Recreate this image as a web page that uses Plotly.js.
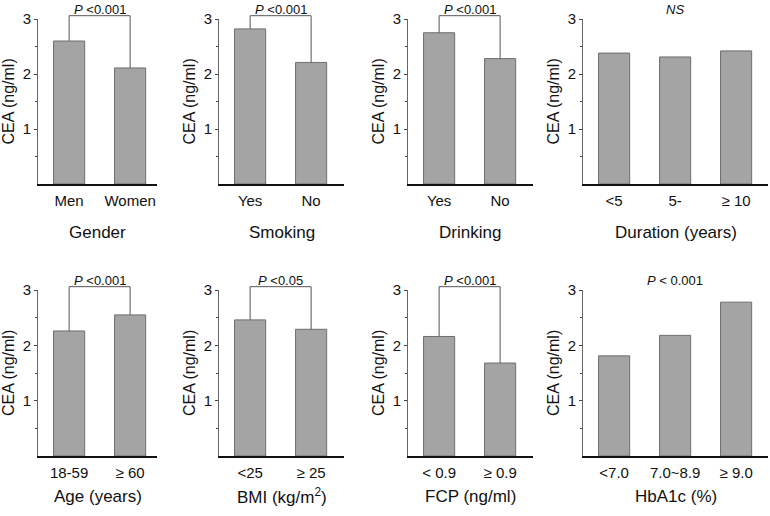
<!DOCTYPE html>
<html>
<head>
<meta charset="utf-8">
<script src="https://cdn.plot.ly/plotly-3.0.1.min.js"></script>
<style>
  html, body { margin: 0; padding: 0; background: #fff; }
  #chart { width: 770px; height: 516px; }
</style>
</head>
<body>
<div id="chart"></div>
<script>
// CEA (ng/ml) by group
var genderCats = ['Men', 'Women'];
var genderVals = [2.60, 2.11];
var smokingCats = ['Yes', 'No'];
var smokingVals = [2.82, 2.21];
var drinkingCats = ['Yes', 'No'];
var drinkingVals = [2.75, 2.28];
var durationCats = ['<5', '5-', '≥ 10'];
var durationVals = [2.38, 2.31, 2.42];
var ageCats = ['18-59', '≥ 60'];
var ageVals = [2.26, 2.55];
var bmiCats = ['<25', '≥ 25'];
var bmiVals = [2.46, 2.29];
var fcpCats = ['< 0.9', '≥ 0.9'];
var fcpVals = [2.16, 1.68];
var hba1cCats = ['<7.0', '7.0~8.9', '≥ 9.0'];
var hba1cVals = [1.81, 2.18, 2.78];

var panelTitles = ['Gender', 'Smoking', 'Drinking', 'Duration (years)',
                   'Age (years)', 'BMI (kg/m<sup>2</sup>)', 'FCP (ng/ml)', 'HbA1c (%)'];
var pLabels = ['<i>P</i> &lt;0.001', '<i>P</i> &lt;0.001', '<i>P</i> &lt;0.001', '<i>NS</i>',
               '<i>P</i> &lt;0.001', '<i>P</i> &lt;0.05', '<i>P</i> &lt;0.001', '<i>P</i> &lt; 0.001'];
var yTitle = 'CEA (ng/ml)';
var bracketTop = 3.06;
var yMax = 3;

var panels = [
  {cats: genderCats, vals: genderVals},
  {cats: smokingCats, vals: smokingVals},
  {cats: drinkingCats, vals: drinkingVals},
  {cats: durationCats, vals: durationVals},
  {cats: ageCats, vals: ageVals},
  {cats: bmiCats, vals: bmiVals},
  {cats: fcpCats, vals: fcpVals},
  {cats: hba1cCats, vals: hba1cVals}
];

// page geometry (px)
var W = 770, H = 516;
var colPx = [[38, 157], [219, 344], [408, 533], [583, 768]];
var rowPx = [[19, 184], [290, 456]];   // top of axis (y=3), baseline (y=0)
var titleY = [232, 496];
var pxPerCat = 61;
var font = 'Liberation Sans, Arial, sans-serif';

var data = [];
var shapes = [];
var annotations = [];
var layout = {
  width: W,
  height: H,
  margin: {l: 0, r: 0, t: 0, b: 0},
  paper_bgcolor: '#fff',
  plot_bgcolor: '#fff',
  showlegend: false,
  font: {family: font, color: '#111'},
  bargap: 0
};

panels.forEach(function (p, i) {
  var n = i + 1;
  var sfx = n === 1 ? '' : String(n);
  var col = colPx[i % 4];
  var row = rowPx[Math.floor(i / 4)];
  var r0 = -0.51;
  var r1 = r0 + (col[1] - col[0]) / pxPerCat;

  data.push({
    type: 'bar',
    x: p.cats,
    y: p.vals,
    xaxis: 'x' + sfx,
    yaxis: 'y' + sfx,
    width: 0.51,
    marker: {color: '#a4a4a4', line: {color: '#6e6e6e', width: 1}},
    hoverinfo: 'skip'
  });

  layout['xaxis' + sfx] = {
    domain: [col[0] / W, col[1] / W],
    anchor: 'y' + sfx,
    type: 'category',
    range: [r0, r1],
    showline: true,
    linecolor: '#111',
    linewidth: 2,
    ticks: '',
    ticklabelstandoff: 2,
    tickfont: {size: 15, color: '#111'},
    showgrid: false,
    zeroline: false,
    fixedrange: true
  };
  layout['yaxis' + sfx] = {
    domain: [1 - row[1] / H, 1 - row[0] / H],
    anchor: 'x' + sfx,
    range: [0, yMax],
    showline: true,
    linecolor: '#666',
    linewidth: 1,
    ticks: 'outside',
    ticklen: 3,
    tickcolor: '#444',
    tickvals: [1, 2, 3],
    ticktext: ['1', '2', '3'],
    tickfont: {size: 15, color: '#111'},
    minor: {tickvals: [0.5, 1.5, 2.5], ticks: 'outside', ticklen: 2, tickcolor: '#444'},
    showgrid: false,
    zeroline: false,
    fixedrange: true
  };

  var fx = function (k) { return (k - r0) / (r1 - r0); };
  var fy = function (v) { return v / yMax; };
  var xr = 'x' + sfx + ' domain', yr = 'y' + sfx + ' domain';

  if (p.cats.length === 2) {
    var line = {color: '#555', width: 1};
    shapes.push({type: 'line', xref: xr, yref: yr, x0: fx(0), x1: fx(0), y0: fy(p.vals[0]), y1: fy(bracketTop), line: line});
    shapes.push({type: 'line', xref: xr, yref: yr, x0: fx(0), x1: fx(1), y0: fy(bracketTop), y1: fy(bracketTop), line: line});
    shapes.push({type: 'line', xref: xr, yref: yr, x0: fx(1), x1: fx(1), y0: fy(p.vals[1]), y1: fy(bracketTop), line: line});
  }

  annotations.push({
    xref: xr, yref: yr,
    x: fx((p.cats.length - 1) / 2), y: 1,
    xanchor: 'center', yanchor: 'bottom', yshift: 0,
    text: pLabels[i], showarrow: false,
    font: {size: 13, color: '#111'}
  });
  annotations.push({
    xref: 'paper', yref: yr,
    x: (col[0] - 30) / W, y: 0.5,
    xanchor: 'center', yanchor: 'middle',
    textangle: -90,
    text: yTitle, showarrow: false,
    font: {size: 16, color: '#111'}
  });
  annotations.push({
    xref: xr, yref: 'paper',
    x: 0.5, y: 1 - titleY[Math.floor(i / 4)] / H,
    xanchor: 'center', yanchor: 'middle',
    text: panelTitles[i], showarrow: false,
    font: {size: 17, color: '#111'}
  });
});

layout.shapes = shapes;
layout.annotations = annotations;

Plotly.newPlot('chart', data, layout, {displayModeBar: false, staticPlot: true});
</script>
</body>
</html>
